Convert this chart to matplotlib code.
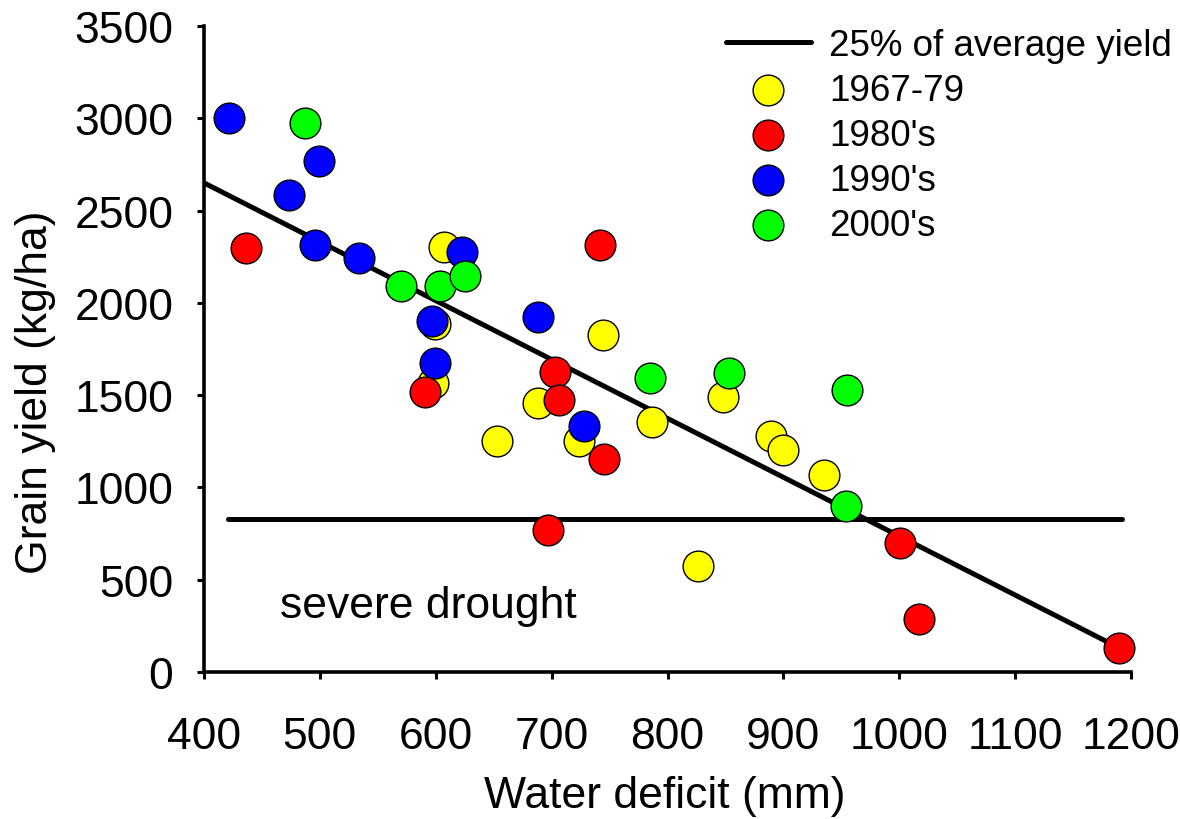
import numpy as np
import matplotlib
matplotlib.use("Agg")
import matplotlib.pyplot as plt

plt.rcParams['font.family'] = ['Liberation Sans', 'DejaVu Sans']

# --- Data ---
x_6779 = [607, 599, 744, 598, 688, 653, 724, 787, 848, 889, 900, 935, 826]
y_6779 = [2302, 1884, 1827, 1564, 1460, 1251, 1250, 1354, 1492, 1281, 1204, 1067, 574]

x_80s = [436, 742, 591, 703, 706, 745, 697, 1001, 1017, 1190]
y_80s = [2299, 2315, 1516, 1625, 1474, 1156, 768, 698, 286, 130]

x_90s = [422, 499, 473, 496, 534, 623, 597, 599, 688, 728]
y_90s = [3000, 2770, 2585, 2315, 2245, 2275, 1900, 1672, 1925, 1334]

x_00s = [487, 570, 604, 625, 785, 853, 955, 954]
y_00s = [2977, 2093, 2090, 2144, 1591, 1621, 1528, 900]

# regression line end points
fit_x = [400, 1190]
fit_y = [2650, 130]

# 25% of average yield threshold
drought_x = [421, 1192]
drought_y = [829, 829]

groups = [
    ("1967-79", x_6779, y_6779, "#ffff00"),
    ("1980's", x_80s, y_80s, "#ff0000"),
    ("1990's", x_90s, y_90s, "#0000ff"),
    ("2000's", x_00s, y_00s, "#00ff00"),
]

fig = plt.figure(figsize=(11.8, 8.2), dpi=100)
ax = fig.add_axes([204 / 1180, 147 / 820, 927 / 1180, 646 / 820])

ax.plot(fit_x, fit_y, color="black", lw=3.6, solid_capstyle="butt", zorder=2)
hline, = ax.plot(drought_x, drought_y, color="black", lw=3.6,
                 solid_capstyle="round", zorder=2, label="25% of average yield")

handles = [hline]
for label, xs, ys, col in groups:
    sc = ax.scatter(xs, ys, s=490, c=col, edgecolors="black", linewidths=1.0,
                    zorder=3, label=label, clip_on=False)
    handles.append(sc)

ax.text(466, 300, "severe drought", fontsize=32, ha="left", va="baseline")

ax.set_xlim(400, 1200)
ax.set_ylim(0, 3500)
ax.set_xticks(np.arange(400, 1201, 100))
ax.set_yticks(np.arange(0, 3501, 500))

for side in ["top", "right"]:
    ax.spines[side].set_visible(False)
for side in ["left", "bottom"]:
    ax.spines[side].set_linewidth(2.6)

ax.tick_params(axis="both", direction="out", length=5, width=2.2, labelsize=32)
ax.tick_params(axis="x", pad=27)
ax.tick_params(axis="y", pad=17)

ax.set_xlabel("Water deficit (mm)", fontsize=32)
ax.set_ylabel("Grain yield (kg/ha)", fontsize=32)
ax.xaxis.set_label_coords(0.497, -0.16)
ax.yaxis.set_label_coords(-0.16, 0.435)

ax.legend(handles=handles, loc="upper left",
          bbox_to_anchor=(726 / 1180, 1 - 29 / 820), bbox_transform=fig.transFigure,
          frameon=False, fontsize=26.5, handlelength=2.3, handletextpad=0.5,
          labelspacing=0.27, borderpad=0, borderaxespad=0, scatterpoints=1)

fig.savefig("out.png", dpi=100, facecolor="white")
